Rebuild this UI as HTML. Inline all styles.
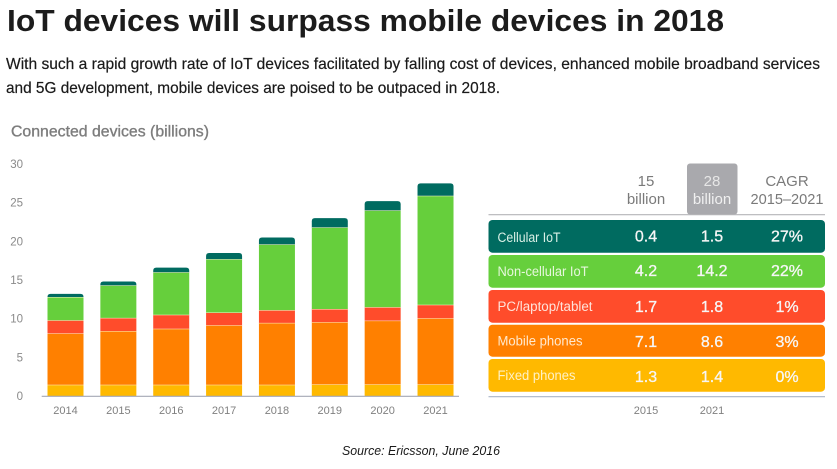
<!DOCTYPE html>
<html lang="en">
<head>
<meta charset="utf-8">
<title>IoT devices will surpass mobile devices in 2018</title>
<style>
html,body{margin:0;padding:0;background:#fff;}
body{width:837px;height:469px;overflow:hidden;}
svg{display:block;font-family:"Liberation Sans",sans-serif;}
.soft{filter:blur(0.35px);}
</style>
</head>
<body>
<svg id="chart" width="837" height="469" viewBox="0 0 837 469" xmlns="http://www.w3.org/2000/svg">
  <text x="7" y="31" font-size="31" font-weight="700" fill="#1c1c1c" textLength="717" lengthAdjust="spacingAndGlyphs">IoT devices will surpass mobile devices in 2018</text>
  <text x="6" y="69" font-size="16" fill="#1a1a1a" stroke="#1a1a1a" stroke-width="0.2" textLength="814" lengthAdjust="spacingAndGlyphs">With such a rapid growth rate of IoT devices facilitated by falling cost of devices, enhanced mobile broadband services</text>
  <text x="6" y="93" font-size="16" fill="#1a1a1a" stroke="#1a1a1a" stroke-width="0.2" textLength="494" lengthAdjust="spacingAndGlyphs">and 5G development, mobile devices are poised to be outpaced in 2018.</text>
  <text class="soft" x="11" y="136.5" font-size="15.5" fill="#7d7d7d" stroke="#7d7d7d" stroke-width="0.35" textLength="198" lengthAdjust="spacingAndGlyphs">Connected devices (billions)</text>

  <g class="soft" id="bars"></g>
  <g class="soft" id="y-ticks"></g>
  <g class="soft" id="x-ticks"></g>

  <g class="soft">
    <rect x="687" y="163.5" width="50.5" height="51" rx="3" fill="#a9a9ad"/>
    <g font-size="15" text-anchor="middle" fill="#7a7a7a">
      <text x="646" y="186">15</text>
      <text x="646" y="204">billion</text>
      <text x="712" y="186" fill="#e6e6e6">28</text>
      <text x="712" y="204" fill="#f0f0f0">billion</text>
      <text x="787" y="186">CAGR</text>
      <text x="787" y="204" textLength="73" lengthAdjust="spacingAndGlyphs">2015–2021</text>
    </g>
    <line x1="488.5" x2="825" y1="214.7" y2="214.7" stroke="#b5b5b8" stroke-width="1.2"/>

    <rect x="488.5" y="220" width="336.5" height="32.7" rx="4" fill="#006b60"/>
    <rect x="488.5" y="255" width="336.5" height="32.7" rx="4" fill="#66cf3c"/>
    <rect x="488.5" y="290" width="336.5" height="32.7" rx="4" fill="#ff4c2b"/>
    <rect x="488.5" y="324.7" width="336.5" height="32" rx="4" fill="#ff8000"/>
    <rect x="488.5" y="359" width="336.5" height="32.7" rx="4" fill="#ffb900"/>

    <g font-size="13.5" fill="#d9f0e6">
      <text x="497.5" y="242" textLength="63" lengthAdjust="spacingAndGlyphs">Cellular IoT</text>
      <text x="497.5" y="276" textLength="91" lengthAdjust="spacingAndGlyphs" fill="#e6f7dc">Non-cellular IoT</text>
      <text x="497.5" y="311" textLength="95" lengthAdjust="spacingAndGlyphs" fill="#ffe3da">PC/laptop/tablet</text>
      <text x="497.5" y="345.7" textLength="85" lengthAdjust="spacingAndGlyphs" fill="#ffe9cf">Mobile phones</text>
      <text x="497.5" y="380" textLength="78" lengthAdjust="spacingAndGlyphs" fill="#fff1c4">Fixed phones</text>
    </g>

    <g font-size="16" text-anchor="middle" fill="#f6f6f6" stroke="#f6f6f6" stroke-width="0.3">
      <text x="646" y="241.5">0.4</text>
      <text x="712" y="241.5">1.5</text>
      <text x="787" y="241.5">27%</text>
      <text x="646" y="276">4.2</text>
      <text x="712" y="276">14.2</text>
      <text x="787" y="276">22%</text>
      <text x="646" y="312">1.7</text>
      <text x="712" y="312">1.8</text>
      <text x="787" y="312">1%</text>
      <text x="646" y="347">7.1</text>
      <text x="712" y="347">8.6</text>
      <text x="787" y="347">3%</text>
      <text x="646" y="382">1.3</text>
      <text x="712" y="382">1.4</text>
      <text x="787" y="382">0%</text>
    </g>

    <line x1="488.5" x2="825" y1="396.7" y2="396.7" stroke="#a9b4c8" stroke-width="1.2"/>
    <text x="646" y="414" font-size="11" text-anchor="middle" fill="#808080">2015</text>
    <text x="712" y="414" font-size="11" text-anchor="middle" fill="#808080">2021</text>
  </g>

  <text x="342" y="455" font-size="13" font-style="italic" fill="#1a1a1a" textLength="158" lengthAdjust="spacingAndGlyphs">Source: Ericsson, June 2016</text>
</svg>

<script>
var years = ['2014', '2015', '2016', '2017', '2018', '2019', '2020', '2021'];
var yTicks = [0, 5, 10, 15, 20, 25, 30];
var fixedPhones = [1.45, 1.45, 1.45, 1.45, 1.45, 1.5, 1.5, 1.5];
var mobilePhones = [6.65, 6.95, 7.25, 7.7, 8.0, 8.05, 8.25, 8.55];
var pcLaptopTablet = [1.7, 1.7, 1.8, 1.65, 1.65, 1.7, 1.75, 1.75];
var nonCellularIot = [3.0, 4.2, 5.5, 6.9, 8.5, 10.55, 12.5, 14.1];
var cellularIot = [0.4, 0.5, 0.6, 0.8, 0.9, 1.2, 1.2, 1.6];

var SVG_NS = 'http://www.w3.org/2000/svg';
var plot = { x0: 47.5, step: 52.86, barWidth: 36, y0: 396, pxPerUnit: 7.733 };
var seriesList = [
  { key: 'fixed-phones', values: fixedPhones, color: '#ffb900' },
  { key: 'mobile-phones', values: mobilePhones, color: '#ff8000' },
  { key: 'pc-laptop-tablet', values: pcLaptopTablet, color: '#ff4c2b' },
  { key: 'non-cellular-iot', values: nonCellularIot, color: '#66cf3c' },
  { key: 'cellular-iot', values: cellularIot, color: '#006b60' }
];

function xScale(i) { return plot.x0 + i * plot.step; }
function yScale(v) { return plot.y0 - v * plot.pxPerUnit; }

var barsGroup = document.getElementById('bars');
var yGroup = document.getElementById('y-ticks');
var xGroup = document.getElementById('x-ticks');

years.forEach(function (year, i) {
  var cumulative = 0;
  var x = xScale(i);
  seriesList.forEach(function (series, s) {
    var yBottom = yScale(cumulative);
    cumulative += series.values[i];
    var yTop = yScale(cumulative);
    var isTop = s === seriesList.length - 1;
    var r = 3;
    var w = plot.barWidth;
    var d;
    if (isTop) {
      d = 'M' + x + ' ' + yBottom +
          'V' + (yTop + r) +
          'Q' + x + ' ' + yTop + ' ' + (x + r) + ' ' + yTop +
          'H' + (x + w - r) +
          'Q' + (x + w) + ' ' + yTop + ' ' + (x + w) + ' ' + (yTop + r) +
          'V' + yBottom + 'Z';
    } else {
      d = 'M' + x + ' ' + yBottom + 'V' + yTop + 'H' + (x + w) + 'V' + yBottom + 'Z';
    }
    var seg = document.createElementNS(SVG_NS, 'path');
    seg.setAttribute('d', d);
    seg.setAttribute('fill', series.color);
    
    
    barsGroup.appendChild(seg);
    if (!isTop) {
      var sep = document.createElementNS(SVG_NS, 'line');
      sep.setAttribute('x1', x);
      sep.setAttribute('x2', x + w);
      sep.setAttribute('y1', yTop);
      sep.setAttribute('y2', yTop);
      sep.setAttribute('stroke', '#fff2d0');
      sep.setAttribute('stroke-width', '1');
      
      
      barsGroup.appendChild(sep);
    }
  });

  var label = document.createElementNS(SVG_NS, 'text');
  label.textContent = year;
  label.setAttribute('x', x + plot.barWidth / 2);
  label.setAttribute('y', 414);
  label.setAttribute('font-size', '11');
  label.setAttribute('text-anchor', 'middle');
  label.setAttribute('fill', '#808080');
  
  
  xGroup.appendChild(label);
});

yTicks.forEach(function (tick) {
  var t = document.createElementNS(SVG_NS, 'text');
  t.textContent = tick;
  t.setAttribute('x', 23);
  t.setAttribute('y', yScale(tick) + 4);
  t.setAttribute('font-size', '11.5');
  t.setAttribute('text-anchor', 'end');
  t.setAttribute('fill', '#8a8a8a');
  
  
  yGroup.appendChild(t);
});

var axis = document.createElementNS(SVG_NS, 'line');
axis.setAttribute('x1', 41.7);
axis.setAttribute('x2', 459);
axis.setAttribute('y1', plot.y0 + 0.3);
axis.setAttribute('y2', plot.y0 + 0.3);
axis.setAttribute('stroke', '#a4a8b4');
axis.setAttribute('stroke-width', '1.2');


xGroup.appendChild(axis);
</script>
</body>
</html>
